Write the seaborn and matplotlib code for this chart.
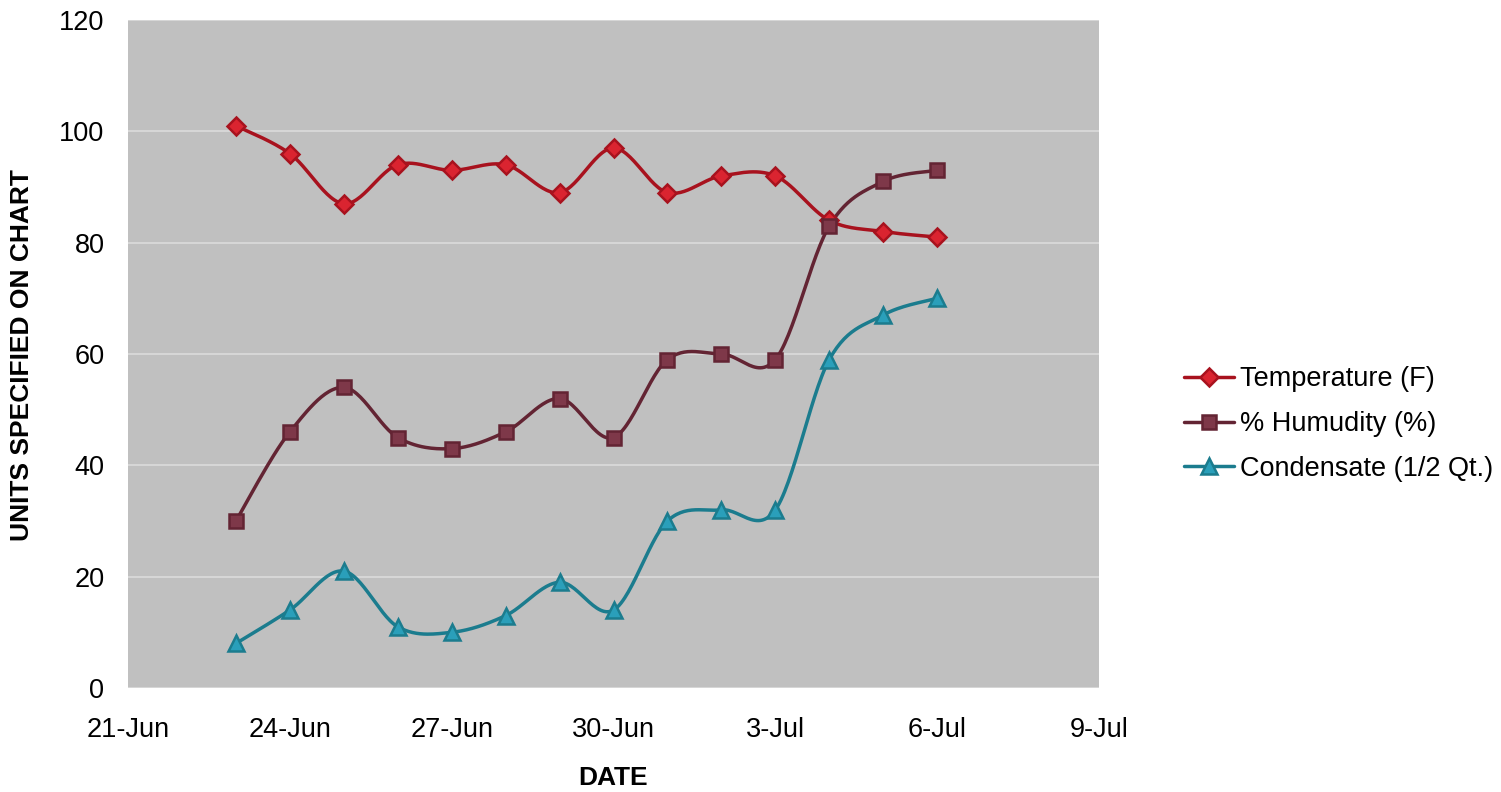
import numpy as np
import pandas as pd
import matplotlib
matplotlib.use("Agg")
import matplotlib.pyplot as plt
import matplotlib.dates as mdates
from matplotlib.lines import Line2D
import seaborn as sns

sns.set_style("white")
plt.rcParams['font.family'] = ['Liberation Sans', 'DejaVu Sans']
plt.rcParams['text.color'] = 'black'
plt.rcParams['xtick.color'] = 'black'
plt.rcParams['ytick.color'] = 'black'
plt.rcParams['axes.labelcolor'] = 'black'

# data
dates = pd.date_range("2010-06-23", "2010-07-06", freq="D")
temperature = [101, 96, 87, 94, 93, 94, 89, 97, 89, 92, 92, 84, 82, 81]
humidity = [30, 46, 54, 45, 43, 46, 52, 45, 59, 60, 59, 83, 91, 93]
condensate = [8, 14, 21, 11, 10, 13, 19, 14, 30, 32, 32, 59, 67, 70]

series = [
    ("Temperature (F)", temperature, "#A8121E", "#DA2430", "D", 9),
    ("% Humudity (%)", humidity, "#632433", "#7E3849", "s", 10),
    ("Condensate (1/2 Qt.)", condensate, "#1B7C8E", "#2A9FBA", "^", 11),
]


def smooth(x, y, n=30):
    # Excel-style smoothed line: cubic bezier with catmull-rom control points
    x = np.asarray(x, float)
    y = np.asarray(y, float)
    px = np.concatenate([[x[0]], x, [x[-1]]])
    py = np.concatenate([[y[0]], y, [y[-1]]])
    t = np.linspace(0, 1, n)[:, None]
    xs, ys = [], []
    for i in range(1, len(px) - 2):
        p0 = np.array([px[i], py[i]])
        p3 = np.array([px[i + 1], py[i + 1]])
        p1 = p0 + (np.array([px[i + 1], py[i + 1]]) - np.array([px[i - 1], py[i - 1]])) / 6
        p2 = p3 - (np.array([px[i + 2], py[i + 2]]) - np.array([px[i], py[i]])) / 6
        b = ((1 - t) ** 3) * p0 + 3 * ((1 - t) ** 2) * t * p1 + 3 * (1 - t) * t ** 2 * p2 + t ** 3 * p3
        xs.append(b[:, 0])
        ys.append(b[:, 1])
    return np.concatenate(xs), np.concatenate(ys)


fig = plt.figure(figsize=(15.01, 7.92), dpi=100)
ax = fig.add_axes([128 / 1501, 1 - 688 / 792, (1099 - 128) / 1501, (688 - 20) / 792])
ax.set_facecolor("#C0C0C0")

xnum = mdates.date2num(dates)
handles = []
for label, vals, lc, fc, mk, ms in series:
    sx, sy = smooth(xnum, vals)
    sns.lineplot(x=sx, y=sy, sort=False, color=lc, linewidth=2.5, ax=ax, zorder=3)
    ax.plot(xnum, vals, linestyle="none", marker=mk, markersize=ms,
            markerfacecolor=fc, markeredgecolor=lc, markeredgewidth=1.8, zorder=4)
    handles.append(Line2D([0], [0], color=lc, linewidth=2.5, marker=mk, markersize=ms,
                          markerfacecolor=fc, markeredgecolor=lc, markeredgewidth=1.8))

ax.set_xlim(mdates.date2num(pd.Timestamp("2010-06-21")), mdates.date2num(pd.Timestamp("2010-07-09")))
ax.set_ylim(0, 120)
ax.set_yticks(np.arange(0, 121, 20))
ax.xaxis.set_major_locator(mdates.DayLocator(bymonthday=[21, 24, 27, 30, 3, 6, 9]))
ax.xaxis.set_major_formatter(plt.FuncFormatter(lambda v, p: "{}-{}".format(mdates.num2date(v).day, mdates.num2date(v).strftime("%b"))))
ax.grid(axis="y", color="#D6D6D6", linewidth=1.5)
ax.set_axisbelow(True)
for s in ax.spines.values():
    s.set_visible(False)
ax.tick_params(axis="both", length=0, labelsize=19.5)
ax.tick_params(axis="x", pad=21)
ax.tick_params(axis="y", pad=17)

ax.set_xlabel("DATE", fontsize=19, fontweight="bold")
ax.set_ylabel("UNITS SPECIFIED ON CHART", fontsize=19, fontweight="bold")
ax.xaxis.set_label_coords(0.4995, (688 - 778) / 668)
ax.xaxis.label.set_va("center")
ax.yaxis.set_label_coords((22 - 128) / 971, 0.4985)
ax.yaxis.label.set_va("center")

fig.legend(handles, [s[0] for s in series], loc="center left", bbox_to_anchor=(1184 / 1501, 1 - 424 / 792),
           frameon=False, fontsize=19.5, handlelength=1.85, handletextpad=0.22, labelspacing=0.7, borderpad=0,
           borderaxespad=0)

fig.savefig("out.png", dpi=100)
